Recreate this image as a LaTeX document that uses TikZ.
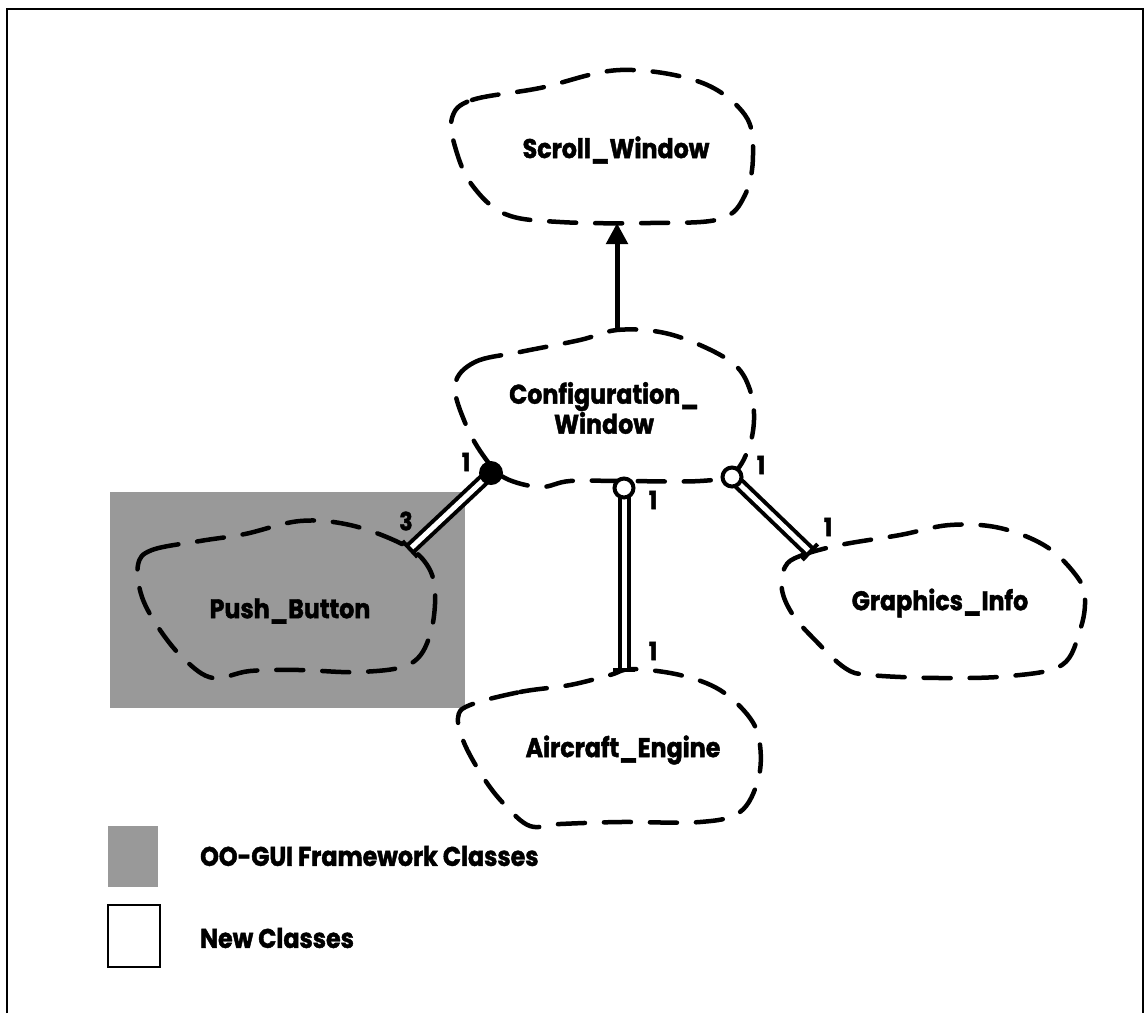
\documentclass[tikz,border=0pt]{standalone}
\usepackage{fontspec}
\setmainfont{Poppins}[FakeStretch=0.88, BoldFeatures={FakeBold=1.6}]
\usetikzlibrary{arrows.meta,calc}
\begin{document}
\begin{tikzpicture}[x=1pt,y=-1pt,
  cloud/.style={line width=4.5pt, dash pattern=on 27pt off 19pt, line cap=round},
  lbl/.style={font=\bfseries\fontsize{27}{30}\selectfont, inner sep=0pt, align=center},
  mult/.style={font=\bfseries\fontsize{25}{27}\selectfont, inner sep=0pt},
  agg/.style={line width=4pt, double=white, double distance=5pt},
  aggbar/.style={line width=4pt},
  opendot/.style={circle, draw, line width=4pt, fill=white, minimum size=19pt, inner sep=0pt},
  fulldot/.style={circle, fill=black, minimum size=24pt, inner sep=0pt},
  framework/.style={fill=black!40},
]
\useasboundingbox (0,0) rectangle (1146,1013);

% page frame (open at the bottom)
\draw[line width=2.5pt] (7,1013) -- (7,9) -- (1143,9) -- (1143,1013);

% shaded area of the framework classes
\fill[framework] (110,492) rectangle (465,708);

% class clouds
\draw[cloud] plot[smooth cycle, tension=0.6] coordinates {
  (452,118) (472,100) (540,88) (620,70) (700,82) (745,115) (753,155)
  (745,195) (720,219) (650,223) (560,222) (505,214) (472,185) (456,150)};
\draw[cloud] plot[smooth cycle, tension=0.6] coordinates {
  (455,385) (475,362) (520,352) (580,340) (617,330) (660,332) (700,345)
  (735,365) (750,390) (754,420) (748,450) (732,474) (700,481) (623,481)
  (570,481) (540,487) (505,478) (485,458) (466,425)};
\draw[cloud] plot[smooth cycle, tension=0.6] coordinates {
  (138,565) (152,550) (200,541) (245,534) (300,521) (350,525) (400,543)
  (425,562) (435,590) (430,635) (410,664) (360,672) (300,670) (250,671)
  (213,678) (185,660) (160,630) (142,597)};
\draw[cloud] plot[smooth cycle, tension=0.6] coordinates {
  (785,567) (800,556) (840,545) (900,535) (950,525) (1000,528) (1047,547)
  (1078,578) (1085,600) (1080,630) (1062,665) (1010,676) (940,678)
  (870,675) (845,668) (815,640) (793,615) (782,590)};
\draw[cloud] plot[smooth cycle, tension=0.6] coordinates {
  (470,705) (520,692) (570,685) (610,675) (632,669) (680,675) (720,690)
  (750,718) (760,745) (758,780) (740,812) (700,822) (620,822) (560,824)
  (530,826) (505,805) (485,780) (465,745) (458,718)};

% class names
\node[lbl] (sw) at (616,150) {Scroll\_Window};
\node[lbl] (cw) at (604,408) {Configuration\_\\Window};
\node[lbl] (pb) at (290,611) {Push\_Button};
\node[lbl] (gi) at (940,603) {Graphics\_Info};
\node[lbl] (ae) at (623,750) {Aircraft\_Engine};

% connector end points
\coordinate (swB) at (617,223);
\coordinate (cwT) at (617,330);
\coordinate (cPB) at (491,473);
\coordinate (cAE) at (624,488);
\coordinate (cGI) at (732,477);
\coordinate (ePB) at (410,549);
\coordinate (eAE) at (624,670);
\coordinate (eGI) at (810,552);

% inheritance
\draw[line width=5pt, -{Triangle[width=21pt,length=21pt]}] (cwT) -- (swB);

% has-relations
\draw[agg] (cPB) -- (ePB);
\draw[agg] (cAE) -- (eAE);
\draw[agg] (cGI) -- (eGI);
\draw[aggbar] ($(ePB)!11pt!90:(cPB)$) -- ($(ePB)!11pt!-90:(cPB)$);
\draw[aggbar] ($(eAE)!11pt!90:(cAE)$) -- ($(eAE)!11pt!-90:(cAE)$);
\draw[aggbar] ($(eGI)!11pt!90:(cGI)$) -- ($(eGI)!11pt!-90:(cGI)$);
\node[fulldot] (dPB) at (cPB) {};
\node[opendot] (dAE) at (cAE) {};
\node[opendot] (dGI) at (cGI) {};

% multiplicities
\node[mult] (m1) at (466,462) {1};
\node[mult] (m3) at (406,521) {3};
\node[mult] (m2) at (653,500) {1};
\node[mult] (m4) at (761,465) {1};
\node[mult] (m5) at (828,527) {1};
\node[mult] (m6) at (653,651) {1};

% legend
\fill[framework] (108,826) rectangle (158,887);
\draw[line width=2pt] (108,905) rectangle (160,967);
\node[lbl, anchor=west] (lg1) at (200,856) {OO-GUI Framework Classes};
\node[lbl, anchor=west] (lg2) at (200,938) {New Classes};
\end{tikzpicture}
\end{document}
